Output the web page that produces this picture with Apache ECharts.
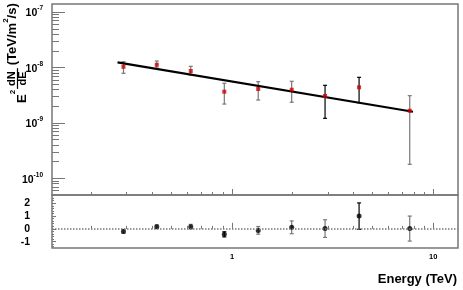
<!DOCTYPE html>
<html><head><meta charset="utf-8">
<script src="https://cdn.jsdelivr.net/npm/echarts@6/dist/echarts.min.js"></script>
<style>html,body{margin:0;padding:0;background:#fff}#c{width:463px;height:290px}</style>
</head><body><div id="c"></div>
<script>
// ---- data ----
const energies   = [0.289, 0.423, 0.624, 0.916, 1.35, 1.98, 2.90, 4.28, 7.64];
const flux       = [1.03e-8, 1.12e-8, 8.65e-9, 3.66e-9, 4.09e-9, 3.97e-9, 3.06e-9, 4.39e-9, 1.66e-9];
const fluxLow    = [7.86e-9, 9.7e-9, 7.32e-9, 2.19e-9, 2.59e-9, 2.36e-9, 1.21e-9, 2.32e-9, 1.79e-10];
const fluxHigh   = [1.27e-8, 1.31e-8, 1.05e-8, 5.19e-9, 5.55e-9, 5.64e-9, 4.77e-9, 6.65e-9, 3.1e-9];
const fitEnergy  = [0.270, 7.93];
const fitFlux    = [1.24e-8, 1.59e-9];
const residual   = [-0.2, 0.17, 0.17, -0.43, -0.12, 0.12, 0.02, 1.0, 0.02];
const residualErr= [0.15, 0.15, 0.18, 0.2, 0.3, 0.5, 0.69, 1.03, 0.98];
const xTickLabels   = [1, 10];
const yTopTickLabels= [1e-10, 1e-9, 1e-8, 1e-7];
const yBotTickLabels= [-1, 0, 1, 2];
const xTitle = 'Energy (TeV)';

// ---- axis ranges / minor tick positions ----
const xMin = 0.1276, xMax = 13.27;
const yTopMin = 5e-11, yTopMax = 1.4e-7;
const yBotMin = -1.5, yBotMax = 2.65;
const xMinor = [];
for (const d of [0.1, 1, 10]) for (let k = 2; k <= 9; k++) { const v = k * d; if (v > xMin && v < xMax) xMinor.push(v); }
const yTopMinor = [];
for (let n = -11; n <= -7; n++) for (let k = 2; k <= 9; k++) { const v = k * Math.pow(10, n); if (v > yTopMin && v < yTopMax) yTopMinor.push(v); }
const yBotMinor = [];
for (let i = -7; i <= 13; i++) { if (i % 5 !== 0) yBotMinor.push(+(i * 0.2).toFixed(1)); }

const FONT = '"Liberation Sans", Arial, sans-serif';
const GRAY = '#777';
const darkTop = [6, 7];
const darkBot = [3, 7];

const chart = echarts.init(document.getElementById('c'), null, { renderer: 'canvas' });

function errRender(darkIdx) {
  return function (params, api) {
    const x = api.value(0), lo = api.value(2), hi = api.value(3), idx = api.value(4);
    const a = api.coord([x, lo]), b = api.coord([x, hi]);
    const col = darkIdx.indexOf(idx) >= 0 ? '#000' : GRAY;
    const st = { stroke: col, lineWidth: 1.2 };
    return { type: 'group', children: [
      { type: 'line', shape: { x1: a[0], y1: a[1], x2: b[0], y2: b[1] }, style: st },
      { type: 'line', shape: { x1: a[0] - 2, y1: a[1], x2: a[0] + 2, y2: a[1] }, style: st },
      { type: 'line', shape: { x1: b[0] - 2, y1: b[1], x2: b[0] + 2, y2: b[1] }, style: st }
    ]};
  };
}

const tickCommon = { inside: true, lineStyle: { color: GRAY, width: 1 } };
function xAx(grid, custom, len, labels) {
  return {
    type: 'log', logBase: 10, gridIndex: grid, min: xMin, max: xMax, position: 'bottom',
    axisLine: { show: false }, splitLine: { show: false },
    axisTick: Object.assign({ show: true, length: len, customValues: custom }, tickCommon),
    axisLabel: labels ? { show: true, customValues: labels, margin: 5, fontSize: 7.5, fontWeight: 'bold', color: '#000', fontFamily: FONT,
      formatter: v => String(Math.round(v)) } : { show: false }
  };
}
function yLog(custom, len, labels) {
  return {
    type: 'log', logBase: 10, gridIndex: 0, min: yTopMin, max: yTopMax, position: 'left',
    axisLine: { show: false }, splitLine: { show: false },
    axisTick: Object.assign({ show: true, length: len, customValues: custom }, tickCommon),
    axisLabel: labels ? {
      show: true, customValues: labels, margin: 9, color: '#000',
      formatter: v => '{b|10}{e|' + Math.round(Math.log10(v)) + '}',
      rich: {
        b: { fontSize: 10.5, fontWeight: 'bold', fontFamily: FONT, color: '#000', lineHeight: 14, verticalAlign: 'bottom' },
        e: { fontSize: 6.5, fontWeight: 'bold', fontFamily: FONT, color: '#000', lineHeight: 14, verticalAlign: 'top' }
      }
    } : { show: false }
  };
}
function yVal(custom, len, labels) {
  return {
    type: 'value', gridIndex: 1, min: yBotMin, max: yBotMax, position: 'left',
    axisLine: { show: false }, splitLine: { show: false },
    axisTick: Object.assign({ show: true, length: len, customValues: custom }, tickCommon),
    axisLabel: labels ? { show: true, customValues: labels, margin: 22, fontSize: 10.5, fontWeight: 'bold', color: '#000', fontFamily: FONT } : { show: false }
  };
}

// Y title pieces laid out with measured widths (rotated group)
const cv = document.createElement('canvas').getContext('2d');
function tw(t, f) { cv.font = f; return cv.measureText(t).width; }
const SB = 13, SS = 8, SF = 11;
const fBig = 'bold ' + SB + 'px ' + FONT, fSup = 'bold ' + SS + 'px ' + FONT, fFrac = 'bold ' + SF + 'px ' + FONT;
const titleEls = [];
let lx = 0;
// base = desired baseline (local y); converted for 'middle' alignment
function txt(t, x, base, f, size, align) {
  titleEls.push({ type: 'text', style: { text: t, x: x, y: base - 0.35 * size, font: f, fill: '#000', align: align || 'left', verticalAlign: 'middle' } });
}
txt('E', lx, 0, fBig, SB); lx += tw('E', fBig);
txt('2', lx, -11, fSup, SS); lx += tw('2', fSup) + 1;
const fracW = Math.max(tw('dN', fFrac), tw('dE', fFrac)) + 6;
const fc = lx + fracW / 2;
txt('dN', fc, -11, fFrac, SF, 'center');
txt('dE', fc, 0, fFrac, SF, 'center');
titleEls.push({ type: 'line', shape: { x1: lx, y1: -9.5, x2: lx + fracW, y2: -9.5 }, style: { stroke: '#000', lineWidth: 1.2 } });
lx += fracW + 3;
txt('(TeV/m', lx, -10, fBig, SB); lx += tw('(TeV/m', fBig);
txt('2', lx, -18, fSup, SS); lx += tw('2', fSup);
txt('/s)', lx, -10, fBig, SB);

const option = {
  animation: false,
  backgroundColor: '#fff',
  grid: [
    { left: 52, top: 4, right: 5, height: 191, show: true, borderColor: GRAY, borderWidth: 1.5, backgroundColor: 'transparent' },
    { left: 52, top: 195, right: 5, height: 53, show: true, borderColor: GRAY, borderWidth: 1.5, backgroundColor: 'transparent' }
  ],
  xAxis: [
    xAx(0, xTickLabels, 6, null),
    xAx(0, xMinor, 3, null),
    xAx(1, xTickLabels, 6, xTickLabels),
    xAx(1, xMinor, 3, null)
  ],
  yAxis: [
    yLog(yTopTickLabels, 13, yTopTickLabels),
    yLog(yTopMinor, 7, null),
    yVal(yBotTickLabels, 4, yBotTickLabels),
    yVal(yBotMinor, 2, null)
  ],
  graphic: [
    { type: 'group', x: 27, y: 103, rotation: Math.PI / 2, children: titleEls },
    { type: 'text', right: 6, top: 273, style: { text: xTitle, font: 'bold 13px ' + FONT, fill: '#000' } }
  ],
  series: [
    { type: 'custom', xAxisIndex: 0, yAxisIndex: 0, renderItem: errRender(darkTop), encode: { x: 0, y: [1, 2, 3] },
      data: energies.map((e, i) => [e, flux[i], fluxLow[i], fluxHigh[i], i]), z: 2 },
    { type: 'line', xAxisIndex: 0, yAxisIndex: 0, data: fitEnergy.map((e, i) => [e, fitFlux[i]]),
      symbol: 'none', lineStyle: { color: '#000', width: 2.2 }, z: 3 },
    { type: 'scatter', xAxisIndex: 0, yAxisIndex: 0, data: energies.map((e, i) => [e, flux[i]]),
      symbol: 'rect', symbolSize: 4, itemStyle: { color: '#d00000' }, z: 4 },
    { type: 'custom', xAxisIndex: 2, yAxisIndex: 2, renderItem: errRender(darkBot), encode: { x: 0, y: [1, 2, 3] },
      data: energies.map((e, i) => [e, residual[i], residual[i] - residualErr[i], residual[i] + residualErr[i], i]), z: 2 },
    { type: 'scatter', xAxisIndex: 2, yAxisIndex: 2, data: energies.map((e, i) => [e, residual[i]]),
      symbol: 'circle', symbolSize: 5, itemStyle: { color: '#000' }, z: 4,
      markLine: { silent: true, symbol: ['none', 'none'], label: { show: false },
        lineStyle: { color: GRAY, type: [1.5, 1.5], width: 1.5 }, data: [{ yAxis: 0 }] } }
  ]
};
chart.setOption(option);
</script>
</body></html>
